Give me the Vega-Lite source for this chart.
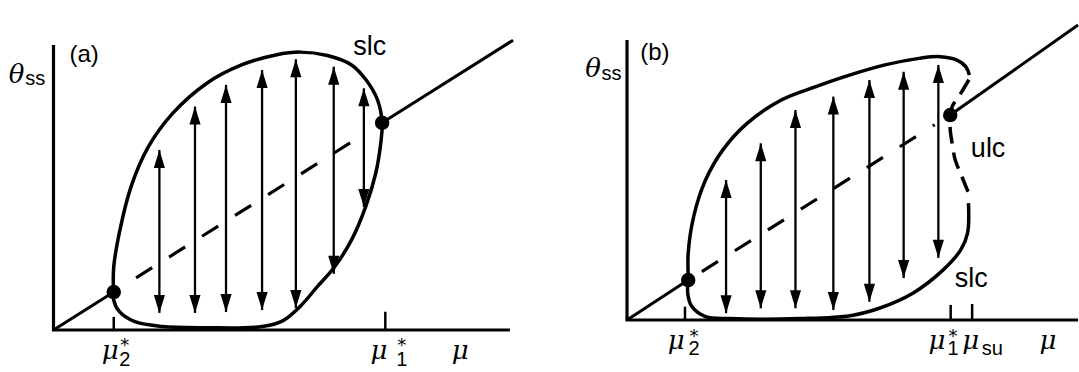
{
  "$schema": "https://vega.github.io/schema/vega-lite/v6.json",
  "padding": 0,
  "background": "white",
  "spacing": 10,
  "config": {"view": {"stroke": null}},
  "resolve": {"scale": {"x": "independent", "y": "independent", "shape": "independent"}},
  "datasets": {
    "a_axes": [
      {"i": 0, "mu": 0, "theta": 100},
      {"i": 1, "mu": 0, "theta": 0},
      {"i": 2, "mu": 100, "theta": 0}
    ],
    "a_ticks": [
      {"mu": 13.2, "theta": 0, "theta2": 4.6},
      {"mu": 72.7, "theta": 0, "theta2": 6.4}
    ],
    "a_steady": [
      {"seg": "low", "mu": 0, "theta": 0},
      {"seg": "low", "mu": 13.2, "theta": 13.3},
      {"seg": "high", "mu": 72.0, "theta": 72.7},
      {"seg": "high", "mu": 100.7, "theta": 101.7}
    ],
    "a_unstable": [
      {"mu": 18.1, "theta": 18.3},
      {"mu": 68.3, "theta": 69.0}
    ],
    "a_cycle": [
      {"i": 0, "mu": 13.2, "theta": 13.2},
      {"i": 1, "mu": 13.1, "theta": 16.4},
      {"i": 2, "mu": 13.2, "theta": 22.2},
      {"i": 3, "mu": 14.4, "theta": 33.9},
      {"i": 4, "mu": 17.0, "theta": 50.3},
      {"i": 5, "mu": 20.8, "theta": 64.3},
      {"i": 6, "mu": 26.1, "theta": 76.0},
      {"i": 7, "mu": 33.6, "theta": 86.6},
      {"i": 8, "mu": 41.2, "theta": 93.0},
      {"i": 9, "mu": 48.7, "theta": 96.5},
      {"i": 10, "mu": 54.0, "theta": 97.5},
      {"i": 11, "mu": 60.0, "theta": 96.3},
      {"i": 12, "mu": 65.3, "theta": 93.0},
      {"i": 13, "mu": 68.5, "theta": 87.7},
      {"i": 14, "mu": 71.0, "theta": 80.7},
      {"i": 15, "mu": 72.0, "theta": 72.5},
      {"i": 16, "mu": 71.7, "theta": 65.5},
      {"i": 17, "mu": 70.6, "theta": 55.0},
      {"i": 18, "mu": 68.4, "theta": 43.3},
      {"i": 19, "mu": 65.3, "theta": 31.6},
      {"i": 20, "mu": 61.6, "theta": 22.2},
      {"i": 21, "mu": 57.8, "theta": 15.2},
      {"i": 22, "mu": 54.0, "theta": 8.2},
      {"i": 23, "mu": 50.2, "theta": 3.2},
      {"i": 24, "mu": 45.7, "theta": 1.2},
      {"i": 25, "mu": 33.6, "theta": 0.8},
      {"i": 26, "mu": 23.8, "theta": 1.2},
      {"i": 27, "mu": 17.7, "theta": 3.0},
      {"i": 28, "mu": 14.4, "theta": 6.5},
      {"i": 29, "mu": 13.2, "theta": 10.5},
      {"i": 30, "mu": 13.2, "theta": 13.2}
    ],
    "a_hopf": [
      {"mu": 13.2, "theta": 13.3},
      {"mu": 72.0, "theta": 72.7}
    ],
    "a_arrows": [
      {"mu": 23.2, "theta": 63.2, "theta2": 6.0},
      {"mu": 31.0, "theta": 78.4, "theta2": 6.0},
      {"mu": 37.8, "theta": 86.0, "theta2": 6.3},
      {"mu": 45.7, "theta": 91.2, "theta2": 7.0},
      {"mu": 53.1, "theta": 95.0, "theta2": 7.7},
      {"mu": 61.4, "theta": 92.4, "theta2": 19.7},
      {"mu": 68.0, "theta": 84.8, "theta2": 43.2}
    ],
    "a_labels": [
      {"label": "θ", "role": "symbol", "mu": -8.1, "theta": 86.7},
      {"label": "ss", "role": "sub", "mu": -4.0, "theta": 86.0},
      {"label": "(a)", "role": "panel", "mu": 6.7, "theta": 94.0},
      {"label": "slc", "role": "curve", "mu": 69.3, "theta": 96.5},
      {"label": "μ", "role": "symbol", "mu": 12.4, "theta": -10.35},
      {"label": "*", "role": "star", "mu": 15.6, "theta": -7.4},
      {"label": "2", "role": "sub", "mu": 15.6, "theta": -12.6},
      {"label": "μ", "role": "symbol", "mu": 71.3, "theta": -10.35},
      {"label": "*", "role": "star", "mu": 76.3, "theta": -7.4},
      {"label": "1", "role": "sub", "mu": 76.3, "theta": -12.6},
      {"label": "μ", "role": "symbol", "mu": 89.1, "theta": -10.35}
    ],
    "b_axes": [
      {"i": 0, "mu": 0, "theta": 98.25},
      {"i": 1, "mu": 0, "theta": 0},
      {"i": 2, "mu": 98.8, "theta": 0}
    ],
    "b_ticks": [
      {"mu": 12.7, "theta": 0, "theta2": 4.7},
      {"mu": 70.9, "theta": 0, "theta2": 5.3},
      {"mu": 75.6, "theta": 0, "theta2": 5.6}
    ],
    "b_steady": [
      {"seg": "low", "mu": 0, "theta": 0},
      {"seg": "low", "mu": 13.4, "theta": 14.0},
      {"seg": "high", "mu": 70.8, "theta": 71.9},
      {"seg": "high", "mu": 98.8, "theta": 103.5}
    ],
    "b_unstable": [
      {"mu": 16.4, "theta": 17.0},
      {"mu": 67.4, "theta": 68.5}
    ],
    "b_slc": [
      {"i": 0, "mu": 74.8, "theta": 41.0},
      {"i": 1, "mu": 74.6, "theta": 30.5},
      {"i": 2, "mu": 73.1, "theta": 24.6},
      {"i": 3, "mu": 69.2, "theta": 17.5},
      {"i": 4, "mu": 62.7, "theta": 9.5},
      {"i": 5, "mu": 55.4, "theta": 4.2},
      {"i": 6, "mu": 48.9, "theta": 1.5},
      {"i": 7, "mu": 37.9, "theta": 0.5},
      {"i": 8, "mu": 22.5, "theta": 0.5},
      {"i": 9, "mu": 17.2, "theta": 1.2},
      {"i": 10, "mu": 14.2, "theta": 4.7},
      {"i": 11, "mu": 13.3, "theta": 9.4},
      {"i": 12, "mu": 13.4, "theta": 14.0},
      {"i": 13, "mu": 13.4, "theta": 23.4},
      {"i": 14, "mu": 14.6, "theta": 36.3},
      {"i": 15, "mu": 17.2, "theta": 49.1},
      {"i": 16, "mu": 21.0, "theta": 59.7},
      {"i": 17, "mu": 26.3, "theta": 69.0},
      {"i": 18, "mu": 33.8, "theta": 77.2},
      {"i": 19, "mu": 41.4, "theta": 81.9},
      {"i": 20, "mu": 48.9, "theta": 86.0},
      {"i": 21, "mu": 56.5, "theta": 89.5},
      {"i": 22, "mu": 64.0, "theta": 91.8},
      {"i": 23, "mu": 68.6, "theta": 92.4},
      {"i": 24, "mu": 72.3, "theta": 91.2},
      {"i": 25, "mu": 74.2, "theta": 88.9},
      {"i": 26, "mu": 75.0, "theta": 86.0}
    ],
    "b_ulc": [
      {"i": 0, "mu": 74.9, "theta": 84.3},
      {"i": 1, "mu": 73.1, "theta": 79.5},
      {"i": 2, "mu": 71.2, "theta": 74.8},
      {"i": 3, "mu": 70.8, "theta": 71.9},
      {"i": 4, "mu": 70.8, "theta": 66.7},
      {"i": 5, "mu": 71.1, "theta": 63.2},
      {"i": 6, "mu": 71.9, "theta": 56.1},
      {"i": 7, "mu": 73.2, "theta": 50.9},
      {"i": 8, "mu": 74.7, "theta": 45.0}
    ],
    "b_hopf": [
      {"mu": 13.4, "theta": 14.0},
      {"mu": 70.8, "theta": 71.9}
    ],
    "b_arrows": [
      {"mu": 21.7, "theta": 49.1, "theta2": 2.4},
      {"mu": 29.3, "theta": 62.0, "theta2": 4.1},
      {"mu": 36.9, "theta": 73.7, "theta2": 4.1},
      {"mu": 45.2, "theta": 78.4, "theta2": 3.5},
      {"mu": 53.1, "theta": 84.2, "theta2": 6.4},
      {"mu": 60.6, "theta": 87.1, "theta2": 14.7},
      {"mu": 68.2, "theta": 89.5, "theta2": 21.8}
    ],
    "b_labels": [
      {"label": "θ", "role": "symbol", "mu": -7.45, "theta": 85.3},
      {"label": "ss", "role": "sub", "mu": -3.4, "theta": 84.2},
      {"label": "(b)", "role": "panel", "mu": 6.1, "theta": 91.2},
      {"label": "ulc", "role": "curve", "mu": 79.1, "theta": 57.2},
      {"label": "slc", "role": "curve", "mu": 75.4, "theta": 11.6},
      {"label": "μ", "role": "symbol", "mu": 10.8, "theta": -10.35},
      {"label": "*", "role": "star", "mu": 14.7, "theta": -7.7},
      {"label": "2", "role": "sub", "mu": 14.7, "theta": -12.3},
      {"label": "μ", "role": "symbol", "mu": 67.9, "theta": -10.35},
      {"label": "*", "role": "star", "mu": 71.4, "theta": -7.7},
      {"label": "1", "role": "sub", "mu": 71.4, "theta": -12.3},
      {"label": "μ", "role": "symbol", "mu": 75.3, "theta": -10.35},
      {"label": "su", "role": "sub", "mu": 80.0, "theta": -12.3},
      {"label": "μ", "role": "symbol", "mu": 92.2, "theta": -10.35}
    ]
  },
  "hconcat": [
    {
      "width": 530,
      "height": 372,
      "encoding": {
        "x": {"field": "mu", "type": "quantitative", "scale": {"domain": [-11.72, 104.4], "nice": false, "zero": false}, "axis": null},
        "y": {"field": "theta", "type": "quantitative", "scale": {"domain": [-14.74, 115.79], "nice": false, "zero": false}, "axis": null}
      },
      "layer": [
        {"data": {"name": "a_axes"}, "mark": {"type": "line", "color": "black", "strokeWidth": 3.2, "strokeJoin": "miter"}, "encoding": {"order": {"field": "i"}}},
        {"data": {"name": "a_ticks"}, "mark": {"type": "rule", "color": "black", "strokeWidth": 2.5}, "encoding": {"y2": {"field": "theta2"}}},
        {"data": {"name": "a_steady"}, "mark": {"type": "line", "color": "black", "strokeWidth": 3}, "encoding": {"detail": {"field": "seg"}}},
        {"data": {"name": "a_unstable"}, "mark": {"type": "line", "color": "black", "strokeWidth": 3.2, "strokeDash": [19, 20]}, "encoding": {}},
        {"data": {"name": "a_cycle"}, "mark": {"type": "line", "color": "black", "strokeWidth": 3.5, "interpolate": "catmull-rom", "strokeJoin": "round"}, "encoding": {"order": {"field": "i"}}},
        {"data": {"name": "a_arrows"}, "mark": {"type": "rule", "color": "black", "strokeWidth": 2.3}, "encoding": {"y2": {"field": "theta2"}}},
        {
          "data": {"name": "a_arrows"},
          "transform": [{"fold": ["theta", "theta2"], "as": ["end", "val"]}],
          "mark": {"type": "point", "filled": true, "opacity": 1, "size": 324, "strokeWidth": 0, "color": "black"},
          "encoding": {
            "y": {"field": "val", "type": "quantitative", "scale": {"domain": [-14.74, 115.79], "nice": false, "zero": false}, "axis": null},
            "shape": {"field": "end", "type": "nominal", "scale": {"domain": ["theta", "theta2"], "range": ["M0,0L0.62,2L-0.62,2Z", "M0,0L0.62,-2L-0.62,-2Z"]}, "legend": null}
          }
        },
        {"data": {"name": "a_hopf"}, "mark": {"type": "point", "shape": "circle", "filled": true, "opacity": 1, "size": 210, "color": "black"}},
        {"data": {"name": "a_labels"}, "transform": [{"filter": "datum.role === 'symbol'"}], "mark": {"type": "text", "font": "DejaVu Serif", "fontStyle": "italic", "fontSize": 26, "align": "center", "baseline": "alphabetic", "color": "black"}, "encoding": {"text": {"field": "label"}}},
        {"data": {"name": "a_labels"}, "transform": [{"filter": "datum.role === 'sub'"}], "mark": {"type": "text", "font": "Liberation Sans", "fontSize": 20, "align": "center", "baseline": "alphabetic", "color": "black"}, "encoding": {"text": {"field": "label"}}},
        {"data": {"name": "a_labels"}, "transform": [{"filter": "datum.role === 'panel'"}], "mark": {"type": "text", "font": "Liberation Sans", "fontSize": 24, "align": "center", "baseline": "alphabetic", "color": "black"}, "encoding": {"text": {"field": "label"}}},
        {"data": {"name": "a_labels"}, "transform": [{"filter": "datum.role === 'curve'"}], "mark": {"type": "text", "font": "Liberation Sans", "fontSize": 27, "align": "center", "baseline": "alphabetic", "color": "black"}, "encoding": {"text": {"field": "label"}}},
        {"data": {"name": "a_labels"}, "transform": [{"filter": "datum.role === 'star'"}], "mark": {"type": "text", "font": "DejaVu Sans", "fontSize": 18, "align": "center", "baseline": "alphabetic", "color": "black"}, "encoding": {"text": {"field": "label"}}}
      ]
    },
    {
      "width": 539,
      "height": 372,
      "encoding": {
        "x": {"field": "mu", "type": "quantitative", "scale": {"domain": [-19.06, 99.01], "nice": false, "zero": false}, "axis": null},
        "y": {"field": "theta", "type": "quantitative", "scale": {"domain": [-18.25, 112.28], "nice": false, "zero": false}, "axis": null}
      },
      "layer": [
        {"data": {"name": "b_axes"}, "mark": {"type": "line", "color": "black", "strokeWidth": 3.2, "strokeJoin": "miter"}, "encoding": {"order": {"field": "i"}}},
        {"data": {"name": "b_ticks"}, "mark": {"type": "rule", "color": "black", "strokeWidth": 2.5}, "encoding": {"y2": {"field": "theta2"}}},
        {"data": {"name": "b_steady"}, "mark": {"type": "line", "color": "black", "strokeWidth": 3}, "encoding": {"detail": {"field": "seg"}}},
        {"data": {"name": "b_unstable"}, "mark": {"type": "line", "color": "black", "strokeWidth": 3.2, "strokeDash": [19, 20]}, "encoding": {}},
        {"data": {"name": "b_slc"}, "mark": {"type": "line", "color": "black", "strokeWidth": 3.5, "interpolate": "catmull-rom", "strokeJoin": "round"}, "encoding": {"order": {"field": "i"}}},
        {"data": {"name": "b_ulc"}, "mark": {"type": "line", "color": "black", "strokeWidth": 3.5, "interpolate": "catmull-rom", "strokeDash": [17, 9]}, "encoding": {"order": {"field": "i"}}},
        {"data": {"name": "b_arrows"}, "mark": {"type": "rule", "color": "black", "strokeWidth": 2.3}, "encoding": {"y2": {"field": "theta2"}}},
        {
          "data": {"name": "b_arrows"},
          "transform": [{"fold": ["theta", "theta2"], "as": ["end", "val"]}],
          "mark": {"type": "point", "filled": true, "opacity": 1, "size": 324, "strokeWidth": 0, "color": "black"},
          "encoding": {
            "y": {"field": "val", "type": "quantitative", "scale": {"domain": [-18.25, 112.28], "nice": false, "zero": false}, "axis": null},
            "shape": {"field": "end", "type": "nominal", "scale": {"domain": ["theta", "theta2"], "range": ["M0,0L0.62,2L-0.62,2Z", "M0,0L0.62,-2L-0.62,-2Z"]}, "legend": null}
          }
        },
        {"data": {"name": "b_hopf"}, "mark": {"type": "point", "shape": "circle", "filled": true, "opacity": 1, "size": 210, "color": "black"}},
        {"data": {"name": "b_labels"}, "transform": [{"filter": "datum.role === 'symbol'"}], "mark": {"type": "text", "font": "DejaVu Serif", "fontStyle": "italic", "fontSize": 26, "align": "center", "baseline": "alphabetic", "color": "black"}, "encoding": {"text": {"field": "label"}}},
        {"data": {"name": "b_labels"}, "transform": [{"filter": "datum.role === 'sub'"}], "mark": {"type": "text", "font": "Liberation Sans", "fontSize": 20, "align": "center", "baseline": "alphabetic", "color": "black"}, "encoding": {"text": {"field": "label"}}},
        {"data": {"name": "b_labels"}, "transform": [{"filter": "datum.role === 'panel'"}], "mark": {"type": "text", "font": "Liberation Sans", "fontSize": 24, "align": "center", "baseline": "alphabetic", "color": "black"}, "encoding": {"text": {"field": "label"}}},
        {"data": {"name": "b_labels"}, "transform": [{"filter": "datum.role === 'curve'"}], "mark": {"type": "text", "font": "Liberation Sans", "fontSize": 27, "align": "center", "baseline": "alphabetic", "color": "black"}, "encoding": {"text": {"field": "label"}}},
        {"data": {"name": "b_labels"}, "transform": [{"filter": "datum.role === 'star'"}], "mark": {"type": "text", "font": "DejaVu Sans", "fontSize": 18, "align": "center", "baseline": "alphabetic", "color": "black"}, "encoding": {"text": {"field": "label"}}}
      ]
    }
  ]
}
